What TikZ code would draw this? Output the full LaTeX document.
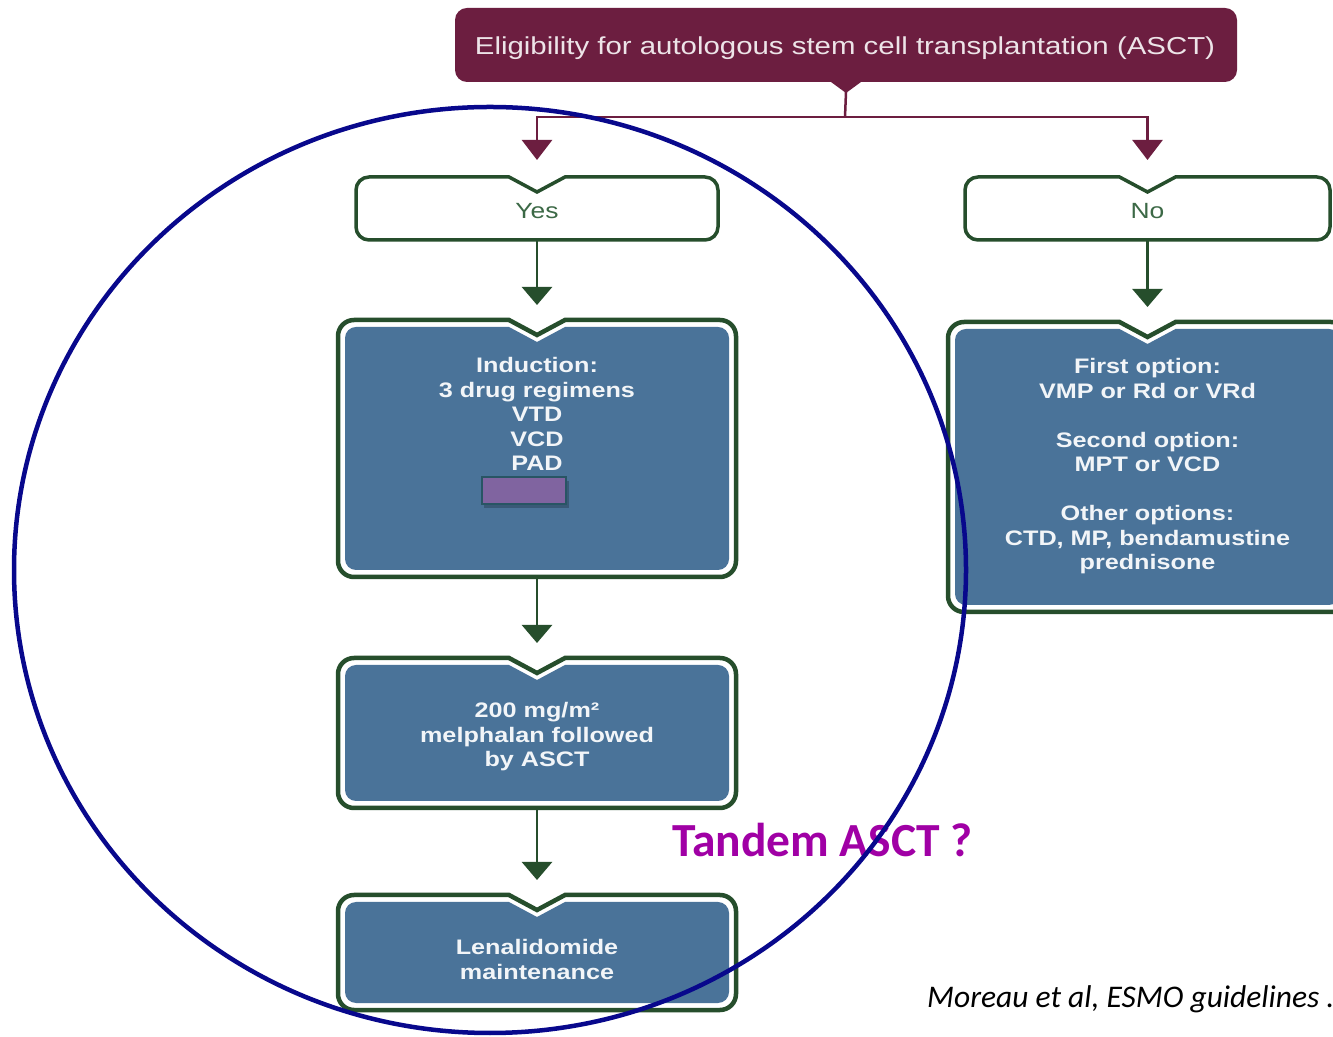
\documentclass[tikz,border=0pt]{standalone}
\usepackage{fontspec}
\usetikzlibrary{arrows.meta,calc}
\newfontfamily\hv[FakeStretch=1.2]{Liberation Sans}
\newfontfamily\calfont{Carlito}
\definecolor{maroonc}{RGB}{108,30,64}
\definecolor{bgreen}{RGB}{38,78,44}
\definecolor{bblue}{RGB}{74,115,153}
\definecolor{circblue}{RGB}{8,8,140}
\definecolor{tandemc}{RGB}{160,0,165}
\definecolor{boxpurple}{RGB}{128,100,160}
\definecolor{boxedge}{RGB}{40,85,100}
\definecolor{yntextc}{RGB}{60,105,70}
% #1 node, #2 style, #3 inset, #4 corner radius (numbers, pt)
\newcommand{\notchbox}[4]{%
  \path[#2] let \p1=(#1.north west), \p2=(#1.south east), \p3=(#1.north),
    \n1={\x1+#3}, \n2={\x2-#3}, \n3={\y1-#3}, \n4={\y2+#3},
    \n5={#4}, \n6={0.448*#4}, \n7={\x3} in
    (\n7-28,\n3) -- (\n1+\n5,\n3)
    .. controls (\n1+\n6,\n3) and (\n1,\n3-\n6) .. (\n1,\n3-\n5)
    -- (\n1,\n4+\n5)
    .. controls (\n1,\n4+\n6) and (\n1+\n6,\n4) .. (\n1+\n5,\n4)
    -- (\n2-\n5,\n4)
    .. controls (\n2-\n6,\n4) and (\n2,\n4+\n6) .. (\n2,\n4+\n5)
    -- (\n2,\n3-\n5)
    .. controls (\n2,\n3-\n6) and (\n2-\n6,\n3) .. (\n2-\n5,\n3)
    -- (\n7+28,\n3) -- (\n7,\n3-15) -- cycle;}
\begin{document}
\begin{tikzpicture}[x=1pt,y=1pt,
  frame/.style={rectangle, inner sep=0pt, outer sep=0pt},
  garrow/.style={draw=bgreen, line width=2.6pt, -{Triangle[width=30pt,length=18pt]}, shorten >=15pt},
  marrow/.style={draw=maroonc, line width=2.5pt, -{Triangle[width=30pt,length=20pt]}, shorten >=17pt},
  mline/.style={draw=maroonc, line width=2.5pt},
  boxtxt/.style={text=white!93!bblue, font=\hv\bfseries\fontsize{21}{24.5}\selectfont, align=center, inner sep=0pt},
  toptxtstyle/.style={text=white!88!maroonc, font=\hv\fontsize{24.5}{28}\selectfont, inner sep=0pt},
  yntxt/.style={text=yntextc, font=\hv\fontsize{22}{25}\selectfont, inner sep=0pt},
  outerline/.style={draw=bgreen, line width=4.5pt, fill=white},
  innerfill/.style={fill=bblue},
  ynline/.style={draw=bgreen, line width=3.5pt, fill=white}
]
\useasboundingbox (0,0) rectangle (1333,1036);
\clip (0,0) rectangle (1333,1036);
\fill[white] (0,0) rectangle (1333,1036);

% frames
\node[frame, minimum width=782pt, minimum height=74pt] (top) at (846,991) {};
\node[frame, minimum width=362pt, minimum height=63pt] (yes) at (537,827.5) {};
\node[frame, minimum width=365pt, minimum height=63pt] (no) at (1147.5,827.5) {};
\node[frame, minimum width=398pt, minimum height=257pt] (ind) at (537,587.5) {};
\node[frame, minimum width=399pt, minimum height=290pt] (opt) at (1147.5,569) {};
\node[frame, minimum width=398pt, minimum height=150pt] (mel) at (537,303) {};
\node[frame, minimum width=398pt, minimum height=115pt] (len) at (537,83.5) {};

% top box
\fill[maroonc, rounded corners=12pt] (top.north west) rectangle (top.south east);
\fill[maroonc] ([xshift=-15pt]top.south) -- ([xshift=15pt]top.south) -- ([yshift=-11pt]top.south) -- cycle;
\coordinate (split) at (845,919);
\draw[mline] ([yshift=-10pt]top.south) -- (split);
\draw[marrow] (split) -| (yes.north);
\draw[marrow] (split) -| (no.north);

% yes / no boxes
\notchbox{yes}{ynline}{0}{13}
\notchbox{no}{ynline}{0}{13}

% blue boxes
\foreach \b in {ind,opt,mel,len}{
  \notchbox{\b}{outerline}{0}{16}
  \notchbox{\b}{innerfill}{7}{11}
}

% green arrows
\draw[garrow] (yes.south) -- (ind.north);
\draw[garrow] (no.south) -- (opt.north);
\draw[garrow] (ind.south) -- (mel.north);
\draw[garrow] (mel.south) -- (len.north);

% texts
\node[toptxtstyle] (toptxt) at (845,988) {Eligibility for autologous stem cell transplantation (ASCT)};
\node[yntxt] (yestxt) at (537,825) {Yes};
\node[yntxt] (notxt) at (1147.5,825) {No};
\node[boxtxt] (indtxt) at (537,622) {Induction:\\3 drug regimens\\VTD\\VCD\\PAD};
\node[boxtxt] (opttxt) at (1147.5,569.5) {First option:\\VMP or Rd or VRd\\[24.5pt]Second option:\\MPT or VCD\\[24.5pt]Other options:\\CTD, MP, bendamustine\\prednisone};
\node[boxtxt] (meltxt) at (537,299) {200 mg/m²\\melphalan followed\\by ASCT};
\node[boxtxt] (lentxt) at (537,76.5) {Lenalidomide\\maintenance};

% purple rectangle
\fill[black, opacity=0.22] (484,555) rectangle (569,528);
\node[draw=boxedge, line width=2pt, fill=boxpurple, minimum width=84pt, minimum height=27pt, inner sep=0pt] (pr) at (524,545.5) {};

\node[font=\calfont\bfseries\fontsize{47.5}{52}\selectfont, text=tandemc, anchor=base west, inner sep=0pt] (tandem) at (672,179) {Tandem ASCT ?};
\node[font=\calfont\itshape\fontsize{31.5}{35}\selectfont, text=black, anchor=base west, inner sep=0pt] (ref) at (927,28) {Moreau et al, ESMO guidelines .};

% circle
\draw[circblue, line width=4.5pt] (490,466) ellipse [x radius=476pt, y radius=463pt];
\end{tikzpicture}
\end{document}
